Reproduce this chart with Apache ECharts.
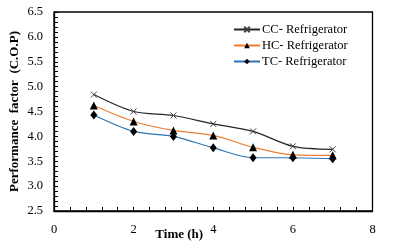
<!DOCTYPE html>
<html>
<head>
<meta charset="utf-8">
<script src="https://cdn.jsdelivr.net/npm/echarts@6/dist/echarts.min.js"></script>
<style>html,body{margin:0;padding:0;background:#fff;}#c{width:419px;height:249px;}</style>
</head>
<body>
<div id="c"></div>
<script>
var hours = [1, 2, 3, 4, 5, 6, 7];
var ccValues = [4.84, 4.50, 4.42, 4.25, 4.10, 3.80, 3.74];
var hcValues = [4.62, 4.30, 4.12, 4.02, 3.78, 3.63, 3.62];
var tcValues = [4.43, 4.10, 4.00, 3.77, 3.57, 3.57, 3.55];
var seriesNames = ['CC- Refrigerator', 'HC- Refrigerator', 'TC- Refrigerator'];
var xTitle = 'Time (h)';
var yTitle = 'Performance  factor  (C.O.P)';

function pairs(vals) { return hours.map(function (h, i) { return [h, vals[i]]; }); }

var font = 'Liberation Serif, Times New Roman, serif';
var chart = echarts.init(document.getElementById('c'));
chart.setOption({
  animation: false,
  backgroundColor: '#fff',
  grid: { left: 54, right: 46.5, top: 12, bottom: 38, outerBoundsMode: 'none', containLabel: false, show: true, borderColor: '#000', borderWidth: 1.3, backgroundColor: 'transparent' },
  legend: {
    orient: 'vertical', left: 228, top: 18, itemWidth: 26, itemHeight: 7, itemGap: 3,
    textStyle: { fontFamily: font, fontSize: 12.5, color: '#000', padding: [0, 0, 0, -3] },
    data: seriesNames
  },
  xAxis: {
    type: 'value', min: 0, max: 8, interval: 2,
    name: xTitle, nameLocation: 'middle', nameGap: 17, nameMoveOverlap: false,
    nameTextStyle: { fontFamily: font, fontWeight: 'bold', fontSize: 13, color: '#000', padding: [0, 68, 0, 0] },
    axisLine: { show: true, lineStyle: { color: '#000', width: 1.3 } },
    axisTick: { show: true, inside: true, length: 4, lineStyle: { color: '#000' } },
    minorTick: { show: true, splitNumber: 5, length: 4, lineStyle: { color: '#000' } },
    splitLine: { show: false },
    axisLabel: { fontFamily: font, fontSize: 12.5, color: '#000', margin: 12 }
  },
  yAxis: {
    type: 'value', min: 2.5, max: 6.5, interval: 0.5,
    name: yTitle, nameLocation: 'middle', nameGap: 33, nameMoveOverlap: false,
    nameTextStyle: { fontFamily: font, fontWeight: 'bold', fontSize: 13, color: '#000' },
    axisLine: { show: true, lineStyle: { color: '#000', width: 1.3 } },
    axisTick: { show: true, inside: true, length: 4, lineStyle: { color: '#000' } },
    minorTick: { show: true, splitNumber: 5, length: 4, lineStyle: { color: '#000' } },
    splitLine: { show: false },
    axisLabel: { fontFamily: font, fontSize: 12.5, color: '#000', margin: 11, formatter: function (v) { return v.toFixed(1); } }
  },
  series: [
    {
      name: seriesNames[0], type: 'line', smooth: 0.3, data: pairs(ccValues),
      symbol: 'path://M0,0L10,10M10,0L0,10', symbolSize: 6,
      lineStyle: { color: '#262626', width: 1.2 },
      itemStyle: { color: 'transparent', borderColor: '#404040', borderWidth: 1 }
    },
    {
      name: seriesNames[1], type: 'line', smooth: 0.3, data: pairs(hcValues),
      symbol: 'triangle', symbolSize: 8,
      lineStyle: { color: '#ED7D31', width: 1.2 },
      itemStyle: { color: '#000' }
    },
    {
      name: seriesNames[2], type: 'line', smooth: 0.3, data: pairs(tcValues),
      symbol: 'diamond', symbolSize: [7, 9],
      lineStyle: { color: '#2E75B6', width: 1.2 },
      itemStyle: { color: '#000' }
    }
  ]
});
</script>
</body>
</html>
